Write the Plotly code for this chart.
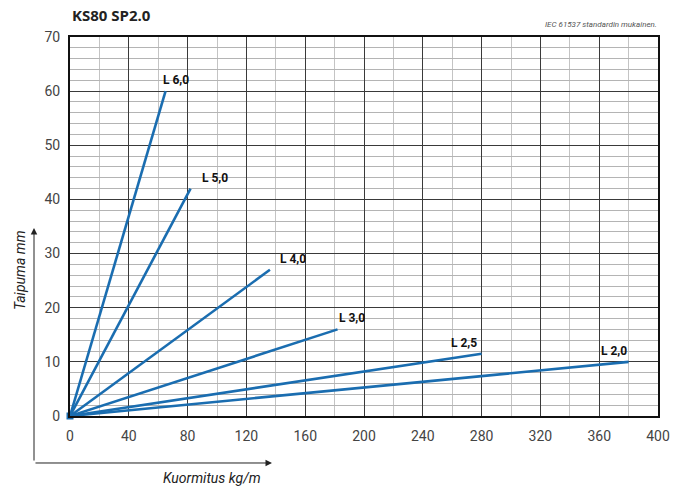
import plotly.graph_objects as go

# Data: deflection lines (span labels, end load kg/m, end deflection mm)
series_names = ["L 6,0", "L 5,0", "L 4,0", "L 3,0", "L 2,5", "L 2,0"]
end_load = [65, 82, 136, 182, 280, 380]
end_deflection = [60, 42, 27, 16, 11.5, 10]
x_ticks = [0, 40, 80, 120, 160, 200, 240, 280, 320, 360, 400]
y_ticks = [0, 10, 20, 30, 40, 50, 60, 70]

blue = "#1a6db0"
narrow = "Roboto, sans-serif"

fig = go.Figure()
for name, xe, ye in zip(series_names, end_load, end_deflection):
    fig.add_trace(go.Scatter(x=[0, xe], y=[0, ye], mode="lines",
                             line=dict(color=blue, width=2.6), name=name,
                             showlegend=False, hoverinfo="skip", cliponaxis=False))
# origin marker
fig.add_trace(go.Scatter(x=[0], y=[0], mode="markers",
                         marker=dict(symbol="square", size=7, color=blue),
                         showlegend=False, hoverinfo="skip", cliponaxis=False))

# line labels
label_style = [("left", -5), ("left", 9), ("left", 8), ("left", -1), ("right", -3), ("right", 0)]
for name, xe, ye, (anc, xs) in zip(series_names, end_load, end_deflection, label_style):
    fig.add_annotation(x=xe, y=ye, text="<b>" + name + "</b>", showarrow=False,
                       xanchor=anc, yanchor="middle", xshift=xs, yshift=11,
                       font=dict(family=narrow, size=12, color="#111"))

fig.update_xaxes(range=[0, 400], tickvals=x_ticks, showgrid=True,
                 gridcolor="#3a3a3a", gridwidth=1.4,
                 minor=dict(dtick=20, showgrid=True, gridcolor="#c4c4c4", gridwidth=1),
                 showline=True, linecolor="#111", linewidth=2, mirror=True,
                 zeroline=False, ticks="", ticklabelstandoff=6,
                 tickfont=dict(family=narrow, size=14, color="#444"))
fig.update_yaxes(range=[0, 70], tickvals=y_ticks, showgrid=True,
                 gridcolor="#3a3a3a", gridwidth=1.4,
                 minor=dict(dtick=2, showgrid=True, gridcolor="#b4b4b4", gridwidth=1),
                 showline=True, linecolor="#111", linewidth=2, mirror=True,
                 zeroline=False, ticks="", ticklabelstandoff=5,
                 tickfont=dict(family=narrow, size=14, color="#444"))

# axis arrows
fig.add_annotation(xref="paper", yref="paper", x=-0.0612, y=0.496, ax=0, ay=234,
                   axref="pixel", ayref="pixel", text="", showarrow=True,
                   arrowhead=2, arrowsize=1.3, arrowwidth=1, arrowcolor="#222")
fig.add_annotation(xref="paper", yref="paper", x=0.3435, y=-0.124, ax=-238, ay=0,
                   text="", showarrow=True, arrowhead=2, arrowsize=1.3,
                   arrowwidth=1, arrowcolor="#222")
fig.add_annotation(xref="paper", yref="paper", x=-0.085, y=0.385, text="<i>Taipuma mm</i>",
                   showarrow=False, textangle=-90, xanchor="center", yanchor="middle",
                   font=dict(family=narrow, size=14, color="#222"))
fig.add_annotation(xref="paper", yref="paper", x=0.241, y=-0.163, text="<i>Kuormitus kg/m</i>",
                   showarrow=False, xanchor="center", yanchor="middle",
                   font=dict(family=narrow, size=14, color="#222"))

# title and note
fig.add_annotation(xref="paper", yref="paper", x=0.0, y=1.057, text="<b>KS80 SP2.0</b>",
                   showarrow=False, xanchor="left", yanchor="middle",
                   font=dict(family="Open Sans, sans-serif", size=15, color="#222"))
fig.add_annotation(xref="paper", yref="paper", x=1.002, y=1.034,
                   text="<i>IEC 61537 standardin mukainen.</i>",
                   showarrow=False, xanchor="right", yanchor="middle",
                   font=dict(family=narrow, size=8, color="#555"))

fig.update_layout(width=686, height=488, paper_bgcolor="white", plot_bgcolor="white",
                  margin=dict(l=70, r=28, t=37, b=72))
fig.write_html("out.html", config={"displayModeBar": False},
               post_script="document.body.style.margin='0';document.body.style.overflow='hidden';")
